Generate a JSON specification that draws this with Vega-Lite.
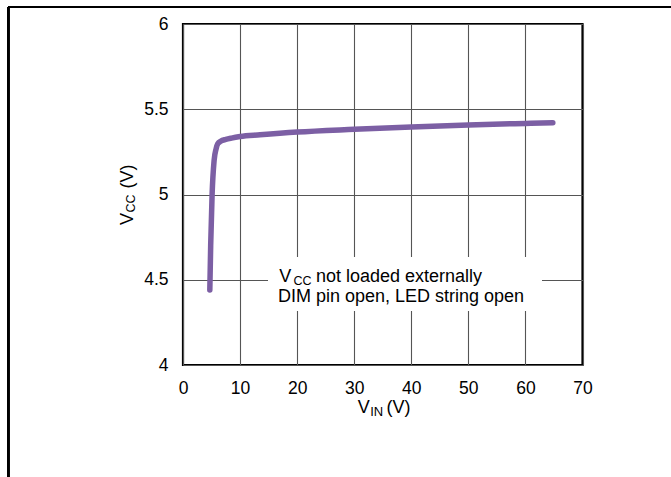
{
  "$schema": "https://vega.github.io/schema/vega-lite/v6.json",
  "width": 399.5,
  "height": 341,
  "autosize": {"type": "none"},
  "padding": {"left": 183, "top": 24, "right": 88.5, "bottom": 112},
  "background": "white",
  "config": {
    "font": "Liberation Sans",
    "view": {"stroke": "black", "strokeWidth": 2.2},
    "axis": {
      "grid": true,
      "gridColor": "#555555",
      "gridWidth": 1.1,
      "gridOpacity": 1,
      "domain": false,
      "ticks": false,
      "tickSize": 0,
      "labelFlush": false,
      "labelFont": "Liberation Sans",
      "labelFontSize": 17.5,
      "labelColor": "black",
      "title": null
    }
  },
  "datasets": {
    "curve": [
      {"vin": 4.7, "vcc": 4.44},
      {"vin": 4.85, "vcc": 4.7},
      {"vin": 5.1, "vcc": 5.0},
      {"vin": 5.45, "vcc": 5.2},
      {"vin": 5.8, "vcc": 5.268},
      {"vin": 6.1, "vcc": 5.298},
      {"vin": 6.6, "vcc": 5.312},
      {"vin": 7.5, "vcc": 5.323},
      {"vin": 8.5, "vcc": 5.331},
      {"vin": 10, "vcc": 5.34},
      {"vin": 13.5, "vcc": 5.35},
      {"vin": 20, "vcc": 5.366},
      {"vin": 30, "vcc": 5.382},
      {"vin": 40, "vcc": 5.396},
      {"vin": 50, "vcc": 5.408},
      {"vin": 60, "vcc": 5.417},
      {"vin": 64.8, "vcc": 5.421}
    ]
  },
  "layer": [
    {
      "data": {"name": "curve"},
      "mark": {"type": "rule", "stroke": "black", "strokeWidth": 1.6},
      "encoding": {
        "x": {"datum": -30.6, "type": "quantitative", "scale": {"domain": [0, 70]}},
        "y": {"datum": 6.1, "type": "quantitative", "scale": {"domain": [4, 6]}},
        "y2": {"datum": 3.2}
      }
    },
    {
      "data": {"name": "curve"},
      "mark": {"type": "rule", "stroke": "black", "strokeWidth": 1.6},
      "encoding": {
        "x": {"datum": -30.6, "type": "quantitative", "scale": {"domain": [0, 70]}},
        "x2": {"datum": 90},
        "y": {"datum": 6.1, "type": "quantitative", "scale": {"domain": [4, 6]}}
      }
    },
    {
      "data": {"name": "curve"},
      "mark": {"type": "rect", "fill": "white", "stroke": null},
      "encoding": {
        "x": {"datum": 14.9, "type": "quantitative", "scale": {"domain": [0, 70]}},
        "x2": {"datum": 62.9},
        "y": {"datum": 4.317, "type": "quantitative", "scale": {"domain": [4, 6]}},
        "y2": {"datum": 4.633}
      }
    },
    {
      "data": {"name": "curve"},
      "mark": {"type": "line", "color": "#7C5FA4", "strokeWidth": 5.5, "strokeCap": "round", "strokeJoin": "round", "interpolate": "monotone"},
      "encoding": {
        "x": {
          "field": "vin", "type": "quantitative",
          "scale": {"domain": [0, 70], "nice": false},
          "axis": {"values": [0, 10, 20, 30, 40, 50, 60, 70], "labelPadding": 14, "format": "~g"}
        },
        "y": {
          "field": "vcc", "type": "quantitative",
          "scale": {"domain": [4, 6], "nice": false, "zero": false},
          "axis": {"values": [4, 4.5, 5, 5.5, 6], "labelPadding": 15, "format": "~g"}
        }
      }
    },
    {
      "data": {"values": [{}]},
      "mark": {"type": "text", "align": "left", "baseline": "alphabetic", "fontSize": 18, "color": "black", "font": "Liberation Sans"},
      "encoding": {
        "x": {"datum": 16.87, "type": "quantitative", "scale": {"domain": [0, 70]}},
        "y": {"datum": 4.487, "type": "quantitative", "scale": {"domain": [4, 6]}},
        "text": {"value": "V"}
      }
    },
    {
      "data": {"values": [{}]},
      "mark": {"type": "text", "align": "left", "baseline": "alphabetic", "fontSize": 12.5, "color": "black", "font": "Liberation Sans"},
      "encoding": {
        "x": {"datum": 19.35, "type": "quantitative", "scale": {"domain": [0, 70]}},
        "y": {"datum": 4.469, "type": "quantitative", "scale": {"domain": [4, 6]}},
        "text": {"value": "CC"}
      }
    },
    {
      "data": {"values": [{}]},
      "mark": {"type": "text", "align": "left", "baseline": "alphabetic", "fontSize": 18, "color": "black", "font": "Liberation Sans"},
      "encoding": {
        "x": {"datum": 23.3, "type": "quantitative", "scale": {"domain": [0, 70]}},
        "y": {"datum": 4.487, "type": "quantitative", "scale": {"domain": [4, 6]}},
        "text": {"value": "not loaded externally"}
      }
    },
    {
      "data": {"values": [{}]},
      "mark": {"type": "text", "align": "left", "baseline": "alphabetic", "fontSize": 18, "color": "black", "font": "Liberation Sans"},
      "encoding": {
        "x": {"datum": 16.63, "type": "quantitative", "scale": {"domain": [0, 70]}},
        "y": {"datum": 4.368, "type": "quantitative", "scale": {"domain": [4, 6]}},
        "text": {"value": "DIM pin open, LED string open"}
      }
    },
    {
      "data": {"values": [{}]},
      "mark": {"type": "text", "align": "left", "baseline": "alphabetic", "fontSize": 18, "color": "black", "font": "Liberation Sans"},
      "encoding": {
        "x": {"datum": 30.6, "type": "quantitative", "scale": {"domain": [0, 70]}},
        "y": {"datum": 3.717, "type": "quantitative", "scale": {"domain": [4, 6]}},
        "text": {"value": "V"}
      }
    },
    {
      "data": {"values": [{}]},
      "mark": {"type": "text", "align": "left", "baseline": "alphabetic", "fontSize": 13, "color": "black", "font": "Liberation Sans"},
      "encoding": {
        "x": {"datum": 32.8, "type": "quantitative", "scale": {"domain": [0, 70]}},
        "y": {"datum": 3.698, "type": "quantitative", "scale": {"domain": [4, 6]}},
        "text": {"value": "IN"}
      }
    },
    {
      "data": {"values": [{}]},
      "mark": {"type": "text", "align": "left", "baseline": "alphabetic", "fontSize": 18, "color": "black", "font": "Liberation Sans"},
      "encoding": {
        "x": {"datum": 35.65, "type": "quantitative", "scale": {"domain": [0, 70]}},
        "y": {"datum": 3.717, "type": "quantitative", "scale": {"domain": [4, 6]}},
        "text": {"value": "(V)"}
      }
    },
    {
      "data": {"values": [{}]},
      "mark": {"type": "text", "align": "left", "baseline": "alphabetic", "angle": 270, "fontSize": 18, "color": "black", "font": "Liberation Sans"},
      "encoding": {
        "x": {"datum": -8.81, "type": "quantitative", "scale": {"domain": [0, 70]}},
        "y": {"datum": 4.821, "type": "quantitative", "scale": {"domain": [4, 6]}},
        "text": {"value": "V"}
      }
    },
    {
      "data": {"values": [{}]},
      "mark": {"type": "text", "align": "left", "baseline": "alphabetic", "angle": 270, "fontSize": 12.5, "color": "black", "font": "Liberation Sans"},
      "encoding": {
        "x": {"datum": -8.4, "type": "quantitative", "scale": {"domain": [0, 70]}},
        "y": {"datum": 4.894, "type": "quantitative", "scale": {"domain": [4, 6]}},
        "text": {"value": "CC"}
      }
    },
    {
      "data": {"values": [{}]},
      "mark": {"type": "text", "align": "left", "baseline": "alphabetic", "angle": 270, "fontSize": 18, "color": "black", "font": "Liberation Sans"},
      "encoding": {
        "x": {"datum": -8.81, "type": "quantitative", "scale": {"domain": [0, 70]}},
        "y": {"datum": 5.035, "type": "quantitative", "scale": {"domain": [4, 6]}},
        "text": {"value": "(V)"}
      }
    }
  ]
}
